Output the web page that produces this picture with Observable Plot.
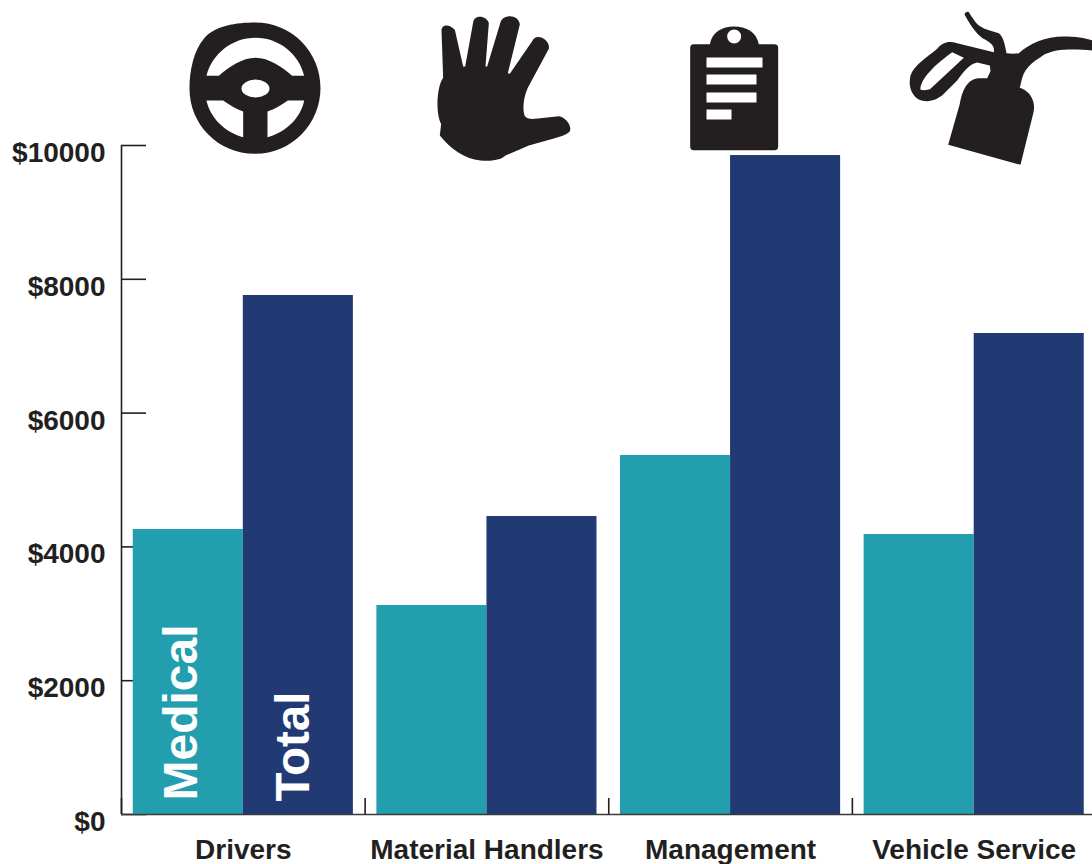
<!DOCTYPE html>
<html>
<head>
<meta charset="utf-8">
<script src="https://cdn.jsdelivr.net/npm/d3@7"></script>
<script src="https://cdn.jsdelivr.net/npm/@observablehq/plot@0.6"></script>
<style>
html,body{margin:0;padding:0;background:#fff;overflow:hidden}
svg{display:block}
</style>
</head>
<body>
<div id="chart"></div>
<script>
const categories = ["Drivers", "Material Handlers", "Management", "Vehicle Service"];
const medical = [4260, 3124, 5366, 4185];
const total = [7758, 4454, 9850, 7190];
const yTicks = [0, 2000, 4000, 6000, 8000, 10000];

const INK = "#231f20", TEAL = "#239eae", NAVY = "#213a73";
const W = 1092, H = 864, ML = 121, MR = -3.5, MT = 145, MB = 50;
const step = (W - MR - ML) / categories.length;
const halfBar = (step * (1 - 0.0965)) / 2;

const wheel = `M254 66C200 66 130 75 100 115C70 150 57 210 57 265C57 370 140 460 254 460C365 460 450 370 450 262C450 155 365 66 254 66Z
M108 226C125 160 185 112 255 112C325 112 385 160 401 226L365 226C335 200 295 172 255 172C215 172 175 200 145 226Z
M108 300L158 300C175 312 195 325 218 333L218 410C165 395 120 355 108 300Z
M401 300L352 300C335 312 315 325 291 333L291 410C345 395 390 355 401 300Z
M213 264a42 27 0 1 0 84 0a42 27 0 1 0 -84 0Z`;
const hand = `M818 232L813 90C813 72 835 68 853 88L878 198L884 198L908 65C912 40 950 45 955 68L945 198L950 198L990 65C998 40 1045 40 1048 72L1012 218L1018 220L1090 115C1105 100 1140 120 1135 145L1072 262C1060 290 1055 320 1062 345C1068 355 1080 356 1095 355L1165 347C1185 350 1205 375 1198 392C1190 402 1170 408 1150 414L1075 435L1005 465C990 480 960 482 930 480C880 475 840 445 808 405L812 370C795 340 798 260 818 232Z`;
const clipboard = `M70 131L118 131C125 95 155 78 190 78C228 78 258 95 265 131L312 131Q323 131 323 142L323 438Q323 449 312 449L70 449Q59 449 59 438L59 142Q59 131 70 131Z
M170 108a21 21 0 1 0 42 0a21 21 0 1 0 -42 0Z
M108 171H276V201H108Z M108 222H258V252H108Z M108 276H258V306H108Z M108 327H183V357H108Z`;
const oilcan = `M833 433L868 310C875 270 890 235 925 233L950 233L960 212L958 195L920 186C900 190 885 205 860 240L820 280C800 300 770 308 745 297C725 285 712 260 720 225C730 195 770 170 800 145C815 125 835 120 860 128L970 155C972 140 968 132 945 118C925 108 905 85 882 42C885 33 892 33 895 35C905 50 915 68 930 78C945 88 965 92 985 98C998 108 1003 130 1008 158C1020 160 1035 160 1045 158C1075 130 1125 108 1180 108C1215 108 1245 112 1266 120L1266 150C1240 148 1210 146 1180 148C1150 150 1125 158 1110 170C1090 182 1075 195 1065 210C1055 225 1052 245 1048 262C1065 268 1080 280 1085 295C1092 310 1092 325 1088 340L1050 493Z
M845 155L880 172L780 265C770 270 758 270 750 268C748 245 775 205 845 155Z`;

const icons = [
  {p: wheel, ox: 170, vx: ML + step * 0.5 - 150},
  {p: hand, ox: 170, vx: ML + step * 1.5 - 150},
  {p: clipboard, ox: 670, vx: ML + step * 2.5 - 150},
  {p: oilcan, ox: 670, vx: ML + step * 3.5 - 150}
].map((d, i) => ({
  category: categories[i],
  src: "data:image/svg+xml," + encodeURIComponent(
    `<svg xmlns="http://www.w3.org/2000/svg" viewBox="${d.vx} 0 300 170" width="300" height="170"><path transform="translate(${d.ox} 0) scale(0.33333)" fill="${INK}" fill-rule="evenodd" d="${d.p}"/></svg>`)
}));

const medicalRows = categories.map((category, i) => ({category, value: medical[i]}));
const totalRows = categories.map((category, i) => ({category, value: total[i]}));

const plot = Plot.plot({
  width: W, height: H,
  marginLeft: ML, marginRight: MR, marginTop: MT, marginBottom: MB,
  style: {fontFamily: "'Liberation Sans', Arial, sans-serif", background: "#fff"},
  x: {type: "band", domain: categories, paddingInner: 0.0965, paddingOuter: 0.04825, round: false, label: null},
  y: {domain: [0, 10000], label: null},
  marks: [
    Plot.axisY({ticks: yTicks, text: null, tickSize: -25, stroke: INK, strokeWidth: 1.6, label: null}),
    Plot.axisY({ticks: yTicks, tickSize: 0, tickPadding: 16, dy: 7.5, tickFormat: d => "$" + d,
      fontSize: 28, fontWeight: 700, fill: INK, label: null}),
    Plot.axisX({tickSize: 0, tickPadding: 25, fontSize: 28, fontWeight: 700, fill: INK, label: null}),
    Plot.ruleX(["Drivers"], {x: d => d, y1: 0, y2: 10000, dx: -step / 2, stroke: INK, strokeWidth: 1.6}),
    Plot.ruleX(categories, {x: d => d, y1: 0, y2: 240, dx: -step / 2, stroke: INK, strokeWidth: 1.6}),
    Plot.image(icons, {x: "category", src: "src", frameAnchor: "top", dy: -60, width: 300, height: 170}),
    Plot.barY(medicalRows, {x: "category", y: "value", fill: TEAL, insetRight: halfBar}),
    Plot.barY(totalRows, {x: "category", y: "value", fill: NAVY, insetLeft: halfBar}),
    Plot.ruleY([0], {stroke: "#3a3a3a", strokeWidth: 1.4}),
    Plot.text(["Medical"], {x: () => "Drivers", y: () => 0, text: d => d, rotate: -90, textAnchor: "start",
      dx: -62, dy: -14, fontSize: 48, fontWeight: 700, fill: "#fff"}),
    Plot.text(["Total"], {x: () => "Drivers", y: () => 0, text: d => d, rotate: -90, textAnchor: "start",
      dx: 50, dy: -13, fontSize: 47.5, fontWeight: 700, fill: "#fff"})
  ]
});
document.getElementById("chart").append(plot);
</script>
</body>
</html>
